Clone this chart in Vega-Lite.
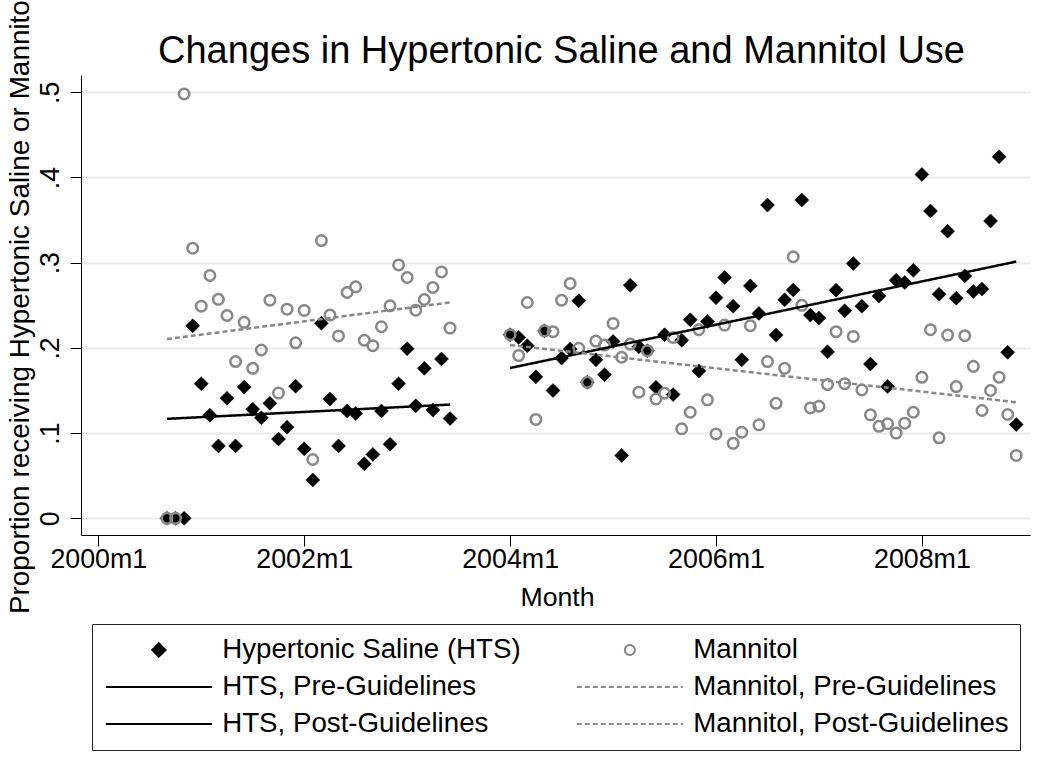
{
  "$schema": "https://vega.github.io/schema/vega-lite/v6.json",
  "width": 949,
  "height": 460,
  "autosize": {"type": "none"},
  "padding": {"left": 81, "top": 75, "right": 20, "bottom": 228},
  "background": "white",
  "config": {"view": {"stroke": null}, "font": "Liberation Sans"},
  "datasets": {
    "monthly": [
      {"t": 488, "hts": 0, "man": 0},
      {"t": 489, "hts": 0, "man": 0},
      {"t": 490, "hts": 0, "man": 0.498},
      {"t": 491, "hts": 0.226, "man": 0.317},
      {"t": 492, "hts": 0.158, "man": 0.249},
      {"t": 493, "hts": 0.121, "man": 0.285},
      {"t": 494, "hts": 0.085, "man": 0.257},
      {"t": 495, "hts": 0.141, "man": 0.238},
      {"t": 496, "hts": 0.085, "man": 0.184},
      {"t": 497, "hts": 0.154, "man": 0.23},
      {"t": 498, "hts": 0.128, "man": 0.176},
      {"t": 499, "hts": 0.118, "man": 0.1975},
      {"t": 500, "hts": 0.135, "man": 0.256},
      {"t": 501, "hts": 0.093, "man": 0.147},
      {"t": 502, "hts": 0.107, "man": 0.2455},
      {"t": 503, "hts": 0.155, "man": 0.206},
      {"t": 504, "hts": 0.0815, "man": 0.244},
      {"t": 505, "hts": 0.045, "man": 0.069},
      {"t": 506, "hts": 0.229, "man": 0.326},
      {"t": 507, "hts": 0.14, "man": 0.2385},
      {"t": 508, "hts": 0.085, "man": 0.214},
      {"t": 509, "hts": 0.126, "man": 0.265},
      {"t": 510, "hts": 0.123, "man": 0.2717},
      {"t": 511, "hts": 0.064, "man": 0.209},
      {"t": 512, "hts": 0.075, "man": 0.2026},
      {"t": 513, "hts": 0.126, "man": 0.2248},
      {"t": 514, "hts": 0.087, "man": 0.2494},
      {"t": 515, "hts": 0.158, "man": 0.2974},
      {"t": 516, "hts": 0.199, "man": 0.2826},
      {"t": 517, "hts": 0.132, "man": 0.2443},
      {"t": 518, "hts": 0.176, "man": 0.2568},
      {"t": 519, "hts": 0.127, "man": 0.2709},
      {"t": 520, "hts": 0.187, "man": 0.2892},
      {"t": 521, "hts": 0.117, "man": 0.2233},
      {"t": 528, "hts": 0.2155, "man": 0.2155},
      {"t": 529, "hts": 0.2123, "man": 0.191},
      {"t": 530, "hts": 0.2026, "man": 0.2533},
      {"t": 531, "hts": 0.166, "man": 0.116},
      {"t": 532, "hts": 0.22, "man": 0.22},
      {"t": 533, "hts": 0.15, "man": 0.219},
      {"t": 534, "hts": 0.188, "man": 0.256},
      {"t": 535, "hts": 0.1987, "man": 0.2756},
      {"t": 536, "hts": 0.2553, "man": 0.1995},
      {"t": 537, "hts": 0.1596, "man": 0.1596},
      {"t": 538, "hts": 0.186, "man": 0.208},
      {"t": 539, "hts": 0.1686, "man": 0.2033},
      {"t": 540, "hts": 0.2076, "man": 0.2287},
      {"t": 541, "hts": 0.0738, "man": 0.189},
      {"t": 542, "hts": 0.2736, "man": 0.2045},
      {"t": 543, "hts": 0.2014, "man": 0.148},
      {"t": 544, "hts": 0.1967, "man": 0.1967},
      {"t": 545, "hts": 0.1537, "man": 0.14},
      {"t": 546, "hts": 0.2155, "man": 0.1468},
      {"t": 547, "hts": 0.1452, "man": 0.2123},
      {"t": 548, "hts": 0.209, "man": 0.105},
      {"t": 549, "hts": 0.233, "man": 0.1245},
      {"t": 550, "hts": 0.173, "man": 0.2213},
      {"t": 551, "hts": 0.231, "man": 0.139},
      {"t": 552, "hts": 0.259, "man": 0.099},
      {"t": 553, "hts": 0.2826, "man": 0.2268},
      {"t": 554, "hts": 0.249, "man": 0.088},
      {"t": 555, "hts": 0.186, "man": 0.101},
      {"t": 556, "hts": 0.2728, "man": 0.226},
      {"t": 557, "hts": 0.2404, "man": 0.1097},
      {"t": 558, "hts": 0.3677, "man": 0.184},
      {"t": 559, "hts": 0.215, "man": 0.135},
      {"t": 560, "hts": 0.2564, "man": 0.176},
      {"t": 561, "hts": 0.268, "man": 0.307},
      {"t": 562, "hts": 0.3735, "man": 0.25},
      {"t": 563, "hts": 0.2385, "man": 0.1296},
      {"t": 564, "hts": 0.235, "man": 0.1315},
      {"t": 565, "hts": 0.1955, "man": 0.157},
      {"t": 566, "hts": 0.2678, "man": 0.219},
      {"t": 567, "hts": 0.2436, "man": 0.158},
      {"t": 568, "hts": 0.299, "man": 0.2135},
      {"t": 569, "hts": 0.249, "man": 0.1507},
      {"t": 570, "hts": 0.181, "man": 0.1214},
      {"t": 571, "hts": 0.261, "man": 0.108},
      {"t": 572, "hts": 0.1546, "man": 0.111},
      {"t": 573, "hts": 0.2795, "man": 0.1},
      {"t": 574, "hts": 0.2767, "man": 0.1116},
      {"t": 575, "hts": 0.291, "man": 0.1245},
      {"t": 576, "hts": 0.4036, "man": 0.1655},
      {"t": 577, "hts": 0.3607, "man": 0.2213},
      {"t": 578, "hts": 0.263, "man": 0.0945},
      {"t": 579, "hts": 0.337, "man": 0.215},
      {"t": 580, "hts": 0.2583, "man": 0.1546},
      {"t": 581, "hts": 0.2845, "man": 0.2143},
      {"t": 582, "hts": 0.2662, "man": 0.1784},
      {"t": 583, "hts": 0.269, "man": 0.1265},
      {"t": 584, "hts": 0.349, "man": 0.15},
      {"t": 585, "hts": 0.4243, "man": 0.1655},
      {"t": 586, "hts": 0.1948, "man": 0.1218},
      {"t": 587, "hts": 0.11, "man": 0.0738}
    ],
    "fits": [
      {"series": "htsPre", "t": 488, "value": 0.1167},
      {"series": "htsPre", "t": 521, "value": 0.1335},
      {"series": "manPre", "t": 488, "value": 0.2104},
      {"series": "manPre", "t": 521, "value": 0.2533},
      {"series": "htsPost", "t": 528, "value": 0.1764},
      {"series": "htsPost", "t": 587, "value": 0.3013},
      {"series": "manPost", "t": 528, "value": 0.2034},
      {"series": "manPost", "t": 587, "value": 0.1362}
    ]
  },
  "resolve": {"axis": {"x": "independent"}},
  "layer": [
    {
      "data": {"name": "monthly"},
      "transform": [{"fold": ["hts"], "as": ["series", "value"]}],
      "mark": {"type": "point", "filled": true, "size": 196, "strokeWidth": 0.5, "opacity": 1},
      "encoding": {
        "x": {
          "field": "t", "type": "quantitative",
          "scale": {"domain": [477.98, 588.6], "nice": false, "zero": false},
          "axis": {
            "orient": "bottom",
            "values": [480, 504, 528, 552, 576],
            "labelExpr": "(floor(datum.value / 12) + 1960) + 'm' + ((datum.value % 12) + 1)",
            "title": "Month",
            "grid": false,
            "domainColor": "black", "domainWidth": 1,
            "tickColor": "black", "tickWidth": 1, "tickSize": 11,
            "labelPadding": 0, "labelFontSize": 26.8, "labelColor": "black", "labelFont": "Liberation Sans",
            "labelBaseline": "top", "labelAlign": "center", "labelFlush": false, "labelOverlap": false,
            "titleFontSize": 26.7, "titleFontWeight": "normal", "titleColor": "black", "titleFont": "Liberation Sans",
            "titleX": 476, "titleY": 70, "titleBaseline": "alphabetic", "titleAlign": "center"
          }
        },
        "y": {
          "field": "value", "type": "quantitative",
          "scale": {"domain": [-0.0196, 0.5203], "nice": false, "zero": false},
          "axis": {
            "values": [0, 0.1, 0.2, 0.3, 0.4, 0.5],
            "labelExpr": "datum.value == 0 ? '0' : '.' + format(datum.value * 10, '.0f')",
            "labelAngle": -90, "labelAlign": "center", "labelBaseline": "alphabetic",
            "labelPadding": 11.5, "tickSize": 11, "tickColor": "black", "tickWidth": 1,
            "domainColor": "black", "domainWidth": 1,
            "grid": true, "gridColor": "#eaeaea", "gridWidth": 2,
            "labelFontSize": 26.8, "labelColor": "black", "labelFont": "Liberation Sans",
            "labelFlush": false, "labelOverlap": false,
            "title": "Proportion receiving Hypertonic Saline or Mannitol",
            "titleFontSize": 27.9, "titleFontWeight": "normal", "titleColor": "black", "titleFont": "Liberation Sans",
            "titleX": -52.7, "titleY": 228.5, "titleAngle": -90, "titleAlign": "center", "titleBaseline": "alphabetic"
          }
        },
        "fill": {
          "field": "series", "type": "nominal",
          "scale": {
            "domain": ["hts", "man", "htsPre", "manPre", "htsPost", "manPost"],
            "range": ["black", "transparent", "transparent", "transparent", "transparent", "transparent"]
          }
        },
        "stroke": {
          "field": "series", "type": "nominal",
          "scale": {
            "domain": ["hts", "man", "htsPre", "manPre", "htsPost", "manPost"],
            "range": ["black", "#888888", "black", "#888888", "black", "#888888"]
          },
          "legend": {
            "title": null,
            "orient": "none", "legendX": 11, "legendY": 549,
            "direction": "horizontal",
            "columns": 2, "columnPadding": 53, "rowPadding": 7, "padding": 11,
            "clipHeight": 30,
            "strokeColor": "#222222", "fillColor": "white",
            "symbolSize": 176, "symbolStrokeWidth": 2,
            "symbolOffset": 42,
            "labelFont": "Liberation Sans", "labelFontSize": 27.7, "labelColor": "black",
            "labelOffset": 49.5, "labelLimit": 600, "labelBaseline": "middle",
            "labelExpr": "datum.value === 'hts' ? 'Hypertonic Saline (HTS)' : datum.value === 'man' ? 'Mannitol' : datum.value === 'htsPre' ? 'HTS, Pre-Guidelines' : datum.value === 'manPre' ? 'Mannitol, Pre-Guidelines' : datum.value === 'htsPost' ? 'HTS, Post-Guidelines' : 'Mannitol, Post-Guidelines'"
          }
        },
        "shape": {
          "field": "series", "type": "nominal",
          "scale": {
            "domain": ["hts", "man", "htsPre", "manPre", "htsPost", "manPost"],
            "range": [
              "diamond",
              "M-0.75,0A0.75,0.75,0,1,1,0.75,0A0.75,0.75,0,1,1,-0.75,0Z",
              "M-8,0L8,0",
              "M-8,0L8,0",
              "M-8,0L8,0",
              "M-8,0L8,0"
            ]
          }
        }
      }
    },
    {
      "data": {"name": "monthly"},
      "transform": [{"fold": ["man"], "as": ["series", "value"]}],
      "mark": {"type": "point", "filled": false, "size": 196, "strokeWidth": 2.5, "opacity": 1},
      "encoding": {
        "x": {"field": "t", "type": "quantitative", "axis": null},
        "y": {"field": "value", "type": "quantitative"},
        "stroke": {"field": "series", "type": "nominal"},
        "shape": {"field": "series", "type": "nominal"}
      }
    },
    {
      "data": {"name": "fits"},
      "mark": {"type": "line", "strokeWidth": 2.5},
      "encoding": {
        "x": {
          "field": "t", "type": "quantitative",
          "axis": {
            "orient": "top", "domain": false, "ticks": false, "labels": false, "grid": false,
            "title": "Changes in Hypertonic Saline and Mannitol Use",
            "titleFontSize": 38, "titleFontWeight": "normal", "titleColor": "black", "titleFont": "Liberation Sans",
            "titleX": 480, "titleY": -13, "titleBaseline": "alphabetic", "titleAlign": "center", "titleAngle": 0
          }
        },
        "y": {"field": "value", "type": "quantitative"},
        "stroke": {"field": "series", "type": "nominal"},
        "strokeDash": {
          "field": "series", "type": "nominal",
          "scale": {
            "domain": ["hts", "man", "htsPre", "manPre", "htsPost", "manPost"],
            "range": [[1, 0], [1, 0], [1, 0], [5, 3], [1, 0], [5, 3]]
          }
        }
      }
    }
  ]
}
